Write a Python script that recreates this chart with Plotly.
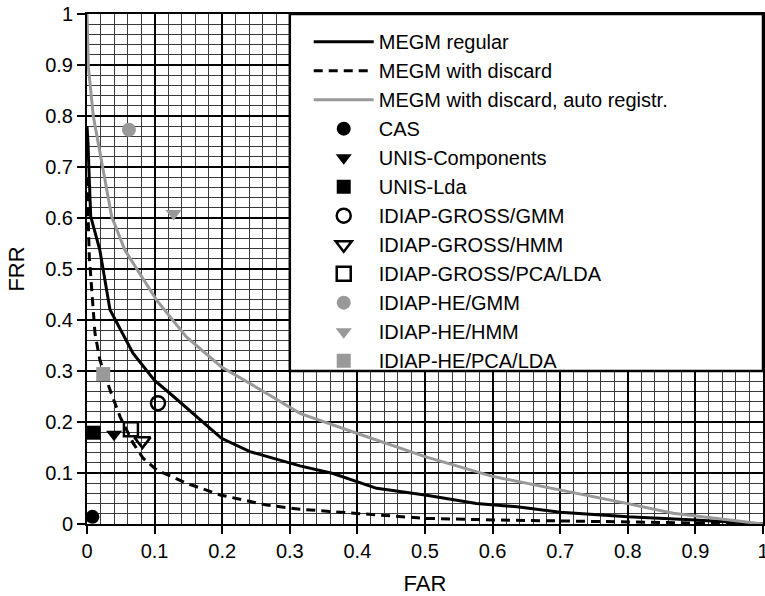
import plotly.graph_objects as go

# ---- data ----
regular_far = [0.0, 0.0015, 0.0034, 0.0055, 0.019, 0.034, 0.068, 0.0996, 0.128, 0.167, 0.199, 0.241,
               0.315, 0.364, 0.399, 0.4285, 0.5, 0.576, 0.636, 0.70, 0.80, 0.90, 1.0]
regular_frr = [0.78, 0.747, 0.675, 0.603, 0.537, 0.42, 0.335, 0.282, 0.25, 0.204, 0.168, 0.142,
               0.114, 0.099, 0.083, 0.070, 0.057, 0.040, 0.034, 0.023, 0.014, 0.008, 0.0]

discard_far = [0.0, 0.002, 0.0034, 0.0118, 0.019, 0.034, 0.049, 0.0685, 0.083, 0.103, 0.147, 0.197,
               0.266, 0.315, 0.399, 0.5, 0.601, 0.70, 0.80, 0.90, 1.0]
discard_frr = [0.68, 0.60, 0.524, 0.374, 0.322, 0.263, 0.21, 0.158, 0.129, 0.106, 0.080, 0.057,
               0.037, 0.029, 0.021, 0.011, 0.008, 0.006, 0.005, 0.003, 0.0]

auto_far = [0.0, 0.002, 0.0093, 0.019, 0.0365, 0.056, 0.103, 0.147, 0.199, 0.266, 0.315, 0.399,
            0.5, 0.601, 0.70, 0.80, 0.867, 0.931, 1.0]
auto_frr = [1.0, 0.897, 0.80, 0.727, 0.603, 0.537, 0.439, 0.367, 0.308, 0.256, 0.217, 0.178,
            0.132, 0.093, 0.067, 0.040, 0.021, 0.011, 0.0]

point_names = ["CAS", "UNIS-Components", "UNIS-Lda", "IDIAP-GROSS/GMM", "IDIAP-GROSS/HMM",
               "IDIAP-GROSS/PCA/LDA", "IDIAP-HE/GMM", "IDIAP-HE/HMM", "IDIAP-HE/PCA/LDA"]
point_far = [0.008, 0.040, 0.010, 0.105, 0.082, 0.065, 0.062, 0.128, 0.024]
point_frr = [0.014, 0.176, 0.179, 0.237, 0.163, 0.186, 0.773, 0.609, 0.294]

x_ticks = [0, 0.1, 0.2, 0.3, 0.4, 0.5, 0.6, 0.7, 0.8, 0.9, 1]
x_ticklabels = ["0", "0.1", "0.2", "0.3", "0.4", "0.5", "0.6", "0.7", "0.8", "0.9", "1"]
y_ticks = x_ticks
y_ticklabels = x_ticklabels

# ---- styles ----
GRAY = "#999999"
point_styles = [
    dict(symbol="circle", color="black", line=dict(width=0)),
    dict(symbol="triangle-down", color="black", line=dict(width=0)),
    dict(symbol="square", color="black", line=dict(width=0)),
    dict(symbol="circle-open", color="black", line=dict(width=2.5, color="black")),
    dict(symbol="triangle-down-open", color="black", line=dict(width=2.5, color="black")),
    dict(symbol="square-open", color="black", line=dict(width=2.5, color="black")),
    dict(symbol="circle", color=GRAY, line=dict(width=0)),
    dict(symbol="triangle-down", color=GRAY, line=dict(width=0)),
    dict(symbol="square", color=GRAY, line=dict(width=0)),
]

FONT = "Liberation Sans, Arial, sans-serif"

fig = go.Figure()
fig.add_trace(go.Scatter(x=regular_far, y=regular_frr, mode="lines", name="MEGM regular",
                         line=dict(color="black", width=3)))
fig.add_trace(go.Scatter(x=discard_far, y=discard_frr, mode="lines", name="MEGM with discard",
                         line=dict(color="black", width=3, dash="9px,6px")))
fig.add_trace(go.Scatter(x=auto_far, y=auto_frr, mode="lines", name="MEGM with discard, auto registr.",
                         line=dict(color=GRAY, width=3)))
for name, xv, yv, st in zip(point_names, point_far, point_frr, point_styles):
    fig.add_trace(go.Scatter(x=[xv], y=[yv], mode="markers", name=name,
                             marker=dict(size=14, **st)))

# legend box (white panel over the grid)
fig.add_shape(type="rect", xref="x", yref="y", x0=0.3, y0=0.3, x1=1, y1=1,
              fillcolor="white", line=dict(color="black", width=2.5), layer="between")

axis_common = dict(
    range=[0, 1], showline=True, linecolor="black", linewidth=2, mirror=True,
    ticks="outside", ticklen=8, tickwidth=2, tickcolor="black",
    showgrid=True, gridcolor="black", gridwidth=2, zeroline=False, automargin=False,
    ticklabeloverflow="allow",
    tickfont=dict(family=FONT, size=20, color="black"),
    minor=dict(dtick=0.02, showgrid=True, gridcolor="#3a3a3a", gridwidth=1, ticks=""),
)

fig.update_xaxes(**axis_common, tickvals=x_ticks, ticktext=x_ticklabels,
                 title=dict(text="FAR", font=dict(family=FONT, size=22, color="black"), standoff=23))
fig.update_yaxes(**axis_common, tickvals=y_ticks, ticktext=y_ticklabels,
                 title=dict(text="FRR", font=dict(family=FONT, size=22, color="black"), standoff=14))

fig.update_layout(
    width=765, height=596,
    margin=dict(l=87, r=2, t=14, b=72, autoexpand=False),
    paper_bgcolor="white", plot_bgcolor="white",
    font=dict(family=FONT, color="black"),
    showlegend=True,
    legend=dict(x=0.328, y=0.984, xanchor="left", yanchor="top",
                bgcolor="rgba(0,0,0,0)", borderwidth=0,
                font=dict(family=FONT, size=20, color="black"), itemwidth=60,
                tracegroupgap=0),
)

fig.write_html("out.html", config={"displayModeBar": False},
               post_script="document.body.style.margin='0';document.body.style.overflow='hidden';")
